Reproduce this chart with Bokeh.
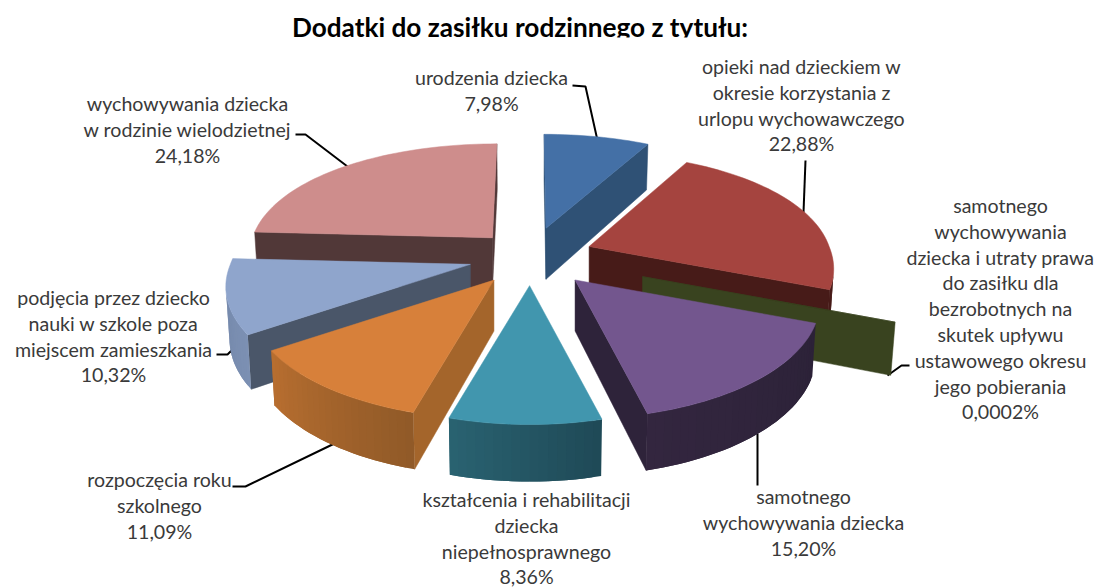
import math
from bokeh.plotting import figure
from bokeh.models import Range1d
from bokeh.core.properties import value
from bokeh.embed import file_html
from bokeh.resources import INLINE

# ---- data ----
title = "Dodatki do zasiłku rodzinnego z tytułu:"
categories = [
    ["urodzenia dziecka"],
    ["opieki nad dzieckiem w", "okresie korzystania z", "urlopu wychowawczego"],
    ["samotnego", "wychowywania", "dziecka i utraty prawa", "do zasiłku dla", "bezrobotnych na",
     "skutek upływu", "ustawowego okresu", "jego pobierania"],
    ["samotnego", "wychowywania dziecka"],
    ["kształcenia i rehabilitacji", "dziecka", "niepełnosprawnego"],
    ["rozpoczęcia roku", "szkolnego"],
    ["podjęcia przez dziecko", "nauki w szkole poza", "miejscem zamieszkania"],
    ["wychowywania dziecka", "w rodzinie wielodzietnej"],
]
shares = [7.98, 22.88, 0.0002, 15.20, 8.36, 11.09, 10.32, 24.18]
share_labels = ["7,98%", "22,88%", "0,0002%", "15,20%", "8,36%", "11,09%", "10,32%", "24,18%"]

# ---- styles and layout ----
top_colors = ["#4470A6", "#A5443F", "#39431F", "#73568E", "#4196AE", "#D7803A", "#8FA5CC", "#CE8D8C"]
wall_colors = ["#2F5175", "#471B18", "#39431F", "#2E233A", "#2A6070", "#A4652B", "#4A5669", "#513838"]
rim_start = ["#2F5175", "#471B18", "#39431F", "#2C2238", "#1F4A57", "#915A28", "#7C90B3", "#513838"]
rim_end = ["#2F5175", "#471B18", "#39431F", "#33263F", "#2A6372", "#B96F30", "#6F83A5", "#513838"]
explode = [0.26, 0.26, 0.50, 0.28, 0.26, 0.26, 0.26, 0.23]
rim_scale = [1, 1, 1.05, 1, 1, 1, 1, 1]
draw_order = [0, 1, 2, 3, 7, 6, 5, 4]
label_pos = [(491, 77), (801, 66), (1000, 205), (803, 496), (526, 499), (159, 479), (113, 297), (187, 103)]
leaders = [
    ([572, 585, 597], [85, 86, 140]),
    ([805, 803], [160, 212]),
    ([757, 757], [433, 485]),
    ([232, 245, 334], [486, 486, 443]),
    ([216, 227, 233], [354, 354, 348]),
    ([295, 305, 347], [134, 134, 166]),
    ([887, 901, 909], [375, 365, 365]),
]
CX, CY, R, K, P = 530, 256, 240, 0.467, 0.193
P_FAR_X = 0.13
LINE_H = 25.8
W, H = 1099, 587


def rim_pt(t, ox, oy, rs):
    v = math.cos(t)
    s = 1 / (1 + P * v)
    sx = 1 / (1 + P_FAR_X * v) if v > 0 else s
    x = CX + ox * (sx if v > 0 else 1) + rs * R * math.sin(t) * sx
    y = CY - oy * K - rs * R * K * v * s
    return x, y


def depth(v):
    return 51 - 6 * v


def lower(pt, v):
    return CX + (pt[0] - CX) * 0.988, pt[1] + depth(v)


def mix(a, b, f):
    ca = [int(a[i:i + 2], 16) for i in (1, 3, 5)]
    cb = [int(b[i:i + 2], 16) for i in (1, 3, 5)]
    return "#%02x%02x%02x" % tuple(round(x + (y - x) * f) for x, y in zip(ca, cb))


def area(q):
    return sum(q[i][0] * q[(i + 1) % len(q)][1] - q[(i + 1) % len(q)][0] * q[i][1] for i in range(len(q)))


total = sum(shares)
xs, ys, fills, stroke = [], [], [], []


def add(poly, color, line=1.0):
    xs.append([a for a, _ in poly])
    ys.append([b for _, b in poly])
    fills.append(color)
    stroke.append(line)


cum = 0
spans = []
for v_ in shares:
    spans.append((cum / total * 2 * math.pi, (cum + v_) / total * 2 * math.pi))
    cum += v_

for i in draw_order:
    t0, t1 = spans[i]
    m = (t0 + t1) / 2
    ox, oy = explode[i] * R * math.sin(m), explode[i] * R * math.cos(m)
    apex = (CX + ox, CY - oy * K)
    apex_low = (apex[0], apex[1] + depth(0))
    n = max(2, int((t1 - t0) / 0.03))
    ts = [t0 + (t1 - t0) * j / n for j in range(n + 1)]
    rim = [rim_pt(t, ox, oy, rim_scale[i]) for t in ts]
    low = [lower(p_, math.cos(t)) for p_, t in zip(rim, ts)]
    # radial walls
    q0 = [apex, rim[0], low[0], apex_low]
    q1 = [rim[-1], apex, apex_low, low[-1]]
    for q in (q0, q1):
        if area(q) < 0:
            add(q, wall_colors[i])
    # rim wall, shaded along the arc; each piece overlaps the next so no seams show
    for j in range(n):
        e = min(j + 2, n)
        if area([rim[j], rim[j + 1], low[j + 1], low[j]]) < 0:
            add(rim[j:e + 1] + low[j:e + 1][::-1], mix(rim_start[i], rim_end[i], j / n), 0.0)
    add([apex] + rim, top_colors[i])

p = figure(width=W, height=H, output_backend="svg", toolbar_location=None,
           x_range=Range1d(0, W), y_range=Range1d(H, 0),
           min_border=0, outline_line_color=None, background_fill_color="white")
p.axis.visible = False
p.grid.visible = False

p.multi_line([l[0] for l in leaders], [l[1] for l in leaders], line_color="#000000", line_width=2)
p.patches(xs, ys, fill_color=fills, line_color=fills, line_alpha=stroke, line_width=0.5)

tx, ty, tt = [], [], []
for i, (lines, lab) in enumerate(zip(categories, share_labels)):
    x0, y0 = label_pos[i]
    for j, s in enumerate(lines + [lab]):
        tx.append(x0)
        ty.append(y0 + j * LINE_H)
        tt.append(s)
p.text(tx, ty, text=tt, text_font=value("Lato"), text_font_size="19.6px", text_color="#3A3A3A",
       text_align="center", text_baseline="middle")
p.text([519.5], [26], text=[title], text_font=value("Lato"), text_font_size="26.2px", text_font_style="bold",
       text_color="#000000", text_align="center", text_baseline="middle")
p.quad(left=[280], right=[770], top=[37], bottom=[46], fill_color="white", line_color=None)

open("out.html", "w").write(file_html(p, INLINE))
